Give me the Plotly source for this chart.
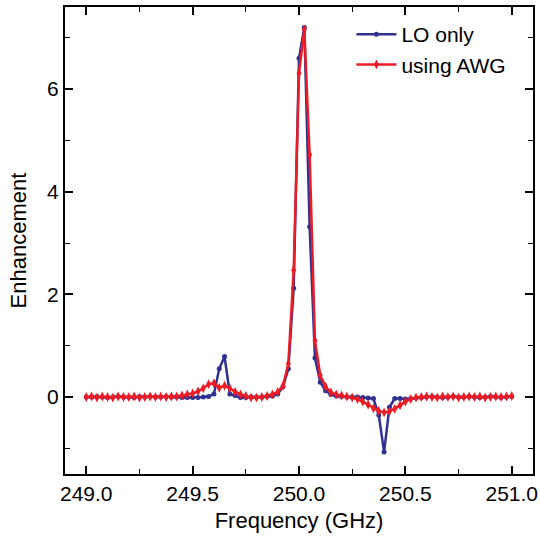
import plotly.graph_objects as go

freq = [249.000, 249.025, 249.050, 249.075, 249.100, 249.125, 249.150, 249.175, 249.200,
        249.225, 249.250, 249.275, 249.300, 249.325, 249.350, 249.375, 249.400, 249.425,
        249.450, 249.475, 249.500, 249.525, 249.550, 249.575, 249.600, 249.625, 249.650,
        249.675, 249.700, 249.725, 249.750, 249.775, 249.800, 249.825, 249.850, 249.875,
        249.900, 249.925, 249.950, 249.975, 250.000, 250.025, 250.050, 250.075, 250.100,
        250.125, 250.150, 250.175, 250.200, 250.225, 250.250, 250.275, 250.300, 250.325,
        250.350, 250.375, 250.400, 250.425, 250.450, 250.475, 250.500, 250.525, 250.550,
        250.575, 250.600, 250.625, 250.650, 250.675, 250.700, 250.725, 250.750, 250.775,
        250.800, 250.825, 250.850, 250.875, 250.900, 250.925, 250.950, 250.975, 251.000]

lo_only = [0.00, 0.00, 0.01, 0.00, -0.01, 0.00, 0.01, 0.00, 0.00,
           -0.01, 0.01, 0.00, 0.01, 0.00, 0.00, 0.01, 0.00, 0.00,
           -0.01, -0.01, -0.01, -0.01, 0.00, 0.01, 0.06, 0.55, 0.79,
           0.06, 0.03, -0.01, -0.01, 0.00, 0.00, 0.00, 0.01, 0.02,
           0.06, 0.20, 0.55, 2.12, 6.60, 7.20, 3.32, 0.76, 0.29,
           0.12, 0.05, 0.02, 0.01, 0.00, 0.00, 0.00, -0.01, -0.02,
           -0.03, -0.35, -1.07, -0.20, -0.03, -0.03, -0.04, -0.03, -0.02,
           -0.01, 0.00, 0.01, 0.00, -0.01, 0.00, 0.01, 0.00, 0.00,
           0.01, 0.00, -0.01, 0.00, 0.01, 0.00, -0.01, 0.00, 0.01]

using_awg = [0.00, 0.01, -0.01, 0.01, 0.00, -0.01, 0.01, 0.00, 0.00,
             0.01, -0.01, 0.00, 0.01, 0.00, 0.01, 0.00, 0.01, 0.01,
             0.03, 0.05, 0.07, 0.11, 0.17, 0.25, 0.27, 0.18, 0.22,
             0.17, 0.10, 0.05, 0.02, -0.01, -0.01, 0.00, 0.02, 0.05,
             0.10, 0.22, 0.65, 2.47, 6.31, 7.16, 4.72, 1.10, 0.42,
             0.20, 0.09, 0.05, 0.03, 0.01, -0.01, -0.04, -0.09, -0.15,
             -0.22, -0.27, -0.30, -0.28, -0.23, -0.16, -0.09, -0.04, -0.01,
             0.00, 0.01, 0.00, -0.01, 0.01, 0.00, 0.01, -0.01, 0.00,
             0.01, 0.00, 0.01, -0.01, 0.00, 0.01, 0.00, 0.01, 0.02]

x_ticks = [249.0, 249.5, 250.0, 250.5, 251.0]
x_tick_labels = ["249.0", "249.5", "250.0", "250.5", "251.0"]
y_ticks = [0, 2, 4, 6]

BLUE = "#2e3192"
RED = "#ed1c24"
FONT = "Liberation Sans, Arial, Helvetica, sans-serif"

fig = go.Figure()
fig.add_trace(go.Scatter(
    x=freq, y=lo_only, name="LO only", mode="lines+markers",
    line=dict(color=BLUE, width=2.5),
    marker=dict(symbol="circle", size=5, color=BLUE),
))
fig.add_trace(go.Scatter(
    x=freq, y=using_awg, name="using AWG", mode="lines+markers",
    line=dict(color=RED, width=2.5),
    marker=dict(symbol="diamond-tall", size=7, color=RED),
))

axis_common = dict(
    showline=True, linecolor="black", linewidth=2, mirror="ticks",
    ticks="inside", ticklen=8, tickwidth=1.5, tickcolor="black",
    showgrid=False, zeroline=False, automargin=False,
    tickfont=dict(family=FONT, size=21, color="black"),
)

fig.update_xaxes(
    range=[248.9, 251.1], tickvals=x_ticks, ticktext=x_tick_labels,
    minor=dict(dtick=0.25, tick0=249.0, ticks="inside", ticklen=5, tickwidth=1, tickcolor="black"),
    title=dict(text="Frequency (GHz)", font=dict(family=FONT, size=22, color="black"), standoff=8),
    **axis_common,
)
fig.update_yaxes(
    range=[-1.5, 7.6], tickvals=y_ticks,
    minor=dict(dtick=1, tick0=0, ticks="inside", ticklen=5, tickwidth=1, tickcolor="black"),
    title=dict(text="Enhancement", font=dict(family=FONT, size=22, color="black"), standoff=14),
    **axis_common,
)

fig.update_layout(
    width=540, height=538,
    margin=dict(l=65, r=7, t=7, b=64),
    paper_bgcolor="white", plot_bgcolor="white",
    font=dict(family=FONT, size=21, color="black"),
    legend=dict(x=0.612, y=0.985, xanchor="left", yanchor="top",
                bgcolor="rgba(0,0,0,0)", font=dict(family=FONT, size=21, color="black"),
                itemwidth=40),
)

fig.write_html("out.html")
